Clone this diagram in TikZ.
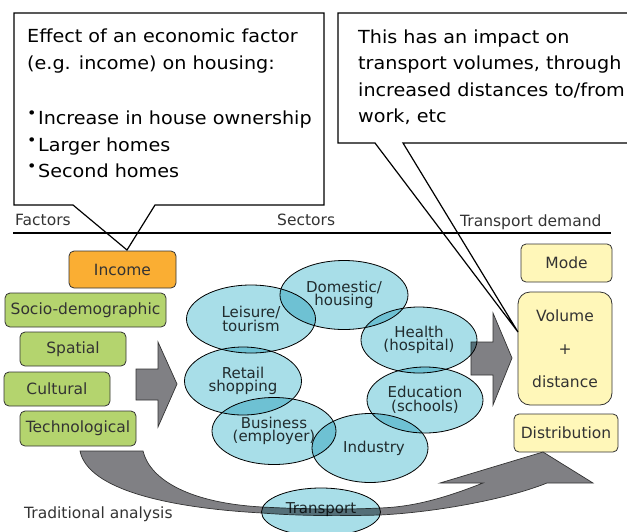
\documentclass[tikz,border=0pt]{standalone}
\usepackage{fontspec}
\setmainfont{DejaVu Sans}
\newfontfamily\callfont[FakeStretch=1.065]{DejaVu Sans}
\usetikzlibrary{shapes.geometric}
\definecolor{incorange}{RGB}{250,174,51}
\definecolor{factgreen}{RGB}{180,212,110}
\definecolor{demyellow}{RGB}{255,247,185}
\definecolor{sectblue}{RGB}{168,222,232}
\definecolor{arrgray}{RGB}{128,128,132}
\definecolor{txtgray}{RGB}{51,51,51}
\newcommand{\bulletdot}{{\fontsize{15}{15}\selectfont\raisebox{6pt}{•}}\hspace{1.5pt}}
\begin{document}
\begin{tikzpicture}
[x=1pt,y=-1pt,inner sep=0pt,
box/.style={rectangle,rounded corners=5pt,draw=txtgray,line width=0.8pt,text=txtgray,font=\fontsize{15.5}{15.5}\selectfont},
factor/.style={box,fill=factgreen},
demand/.style={box,fill=demyellow},
sector/.style={ellipse,draw=black,line width=0.8pt,fill=sectblue,text=txtgray,align=center,font=\fontsize{15}{13.5}\selectfont},
bigarrow/.style={draw=black!80,line width=0.7pt,fill=arrgray},
callout/.style={draw=black,line width=1.2pt,fill=white},
calltext/.style={anchor=north west,align=left,font=\callfont\fontsize{18}{26.5}\selectfont},
header/.style={anchor=base west,text=txtgray,font=\fontsize{15.5}{15.5}\selectfont}]
\useasboundingbox (0,0) rectangle (627,531);
\node (income) at (122.5,269.5) [box,fill=incorange,minimum width=107,minimum height=37] {Income};
\node (socio) at (85.5,310) [factor,minimum width=161,minimum height=34] {Socio-demographic};
\node (spatial) at (73,349) [factor,minimum width=106,minimum height=34] {Spatial};
\node (cultural) at (57,389) [factor,minimum width=106,minimum height=34] {Cultural};
\node (techno) at (78,428.5) [factor,minimum width=116,minimum height=35] {Technological};
\node (mode) at (566.5,263) [demand,minimum width=91,minimum height=38] {Mode};
\node (volume) at (565,348.5) [demand,rounded corners=12pt,align=center,minimum width=94,minimum height=113,font=\fontsize{15.5}{33}\selectfont] {Volume\\+\\distance};
\node (distrib) at (566,433) [demand,minimum width=104,minimum height=38] {Distribution};
\coordinate (tipa) at (127,250);
\coordinate (tipb) at (518,332);
\draw[callout] (14,13) -- (324,13) -- (324,205) -- (155,205) -- (tipa) -- (73,205) -- (14,205) -- cycle;
\draw[callout] (338,13) -- (640,13) -- (640,143) -- (403,143) -- (tipb) -- (375,143) -- (338,143) -- cycle;
\node (effect) at (27,29) [calltext] {Effect of an economic factor\\(e.g. income) on housing:\\[29pt]
\bulletdot Increase in house ownership\\
\bulletdot Larger homes\\
\bulletdot Second homes};
\node (impact) at (358,29.5) [calltext] {This has an impact on\\transport volumes, through\\increased distances to/from\\work, etc};
\node (factors) at (15,225) [header] {Factors};
\node (sectors) at (277,225) [header] {Sectors};
\node (tdemand) at (460,226) [header] {Transport demand};
\draw[line width=1.2pt] (13,233) -- (611,233);
\node (trad) at (24,518) [header] {Traditional analysis};
\draw[bigarrow] (136,369) -- (158,369) -- (158,342) -- (177,384) -- (158,427) -- (158,400) -- (136,400) -- cycle;
\draw[bigarrow] (471,342) -- (493,342) -- (493,313) -- (512,358) -- (493,405) -- (493,375) -- (471,375) -- cycle;
\draw[bigarrow] (80,451) .. controls (88,490) and (170,508) .. (262,513)
  .. controls (300,516) and (340,516) .. (380,515)
  .. controls (440,512) and (510,498) .. (547,483) -- (593,483) -- (543,452) -- (440,483) -- (483,483)
  .. controls (440,500) and (410,507) .. (380,508)
  .. controls (340,510) and (300,509) .. (262,507)
  .. controls (190,503) and (150,480) .. (143,451) -- cycle;
\begin{scope}[blend mode=multiply]
\node (leisure) at (251,319) [sector,minimum width=129,minimum height=68] {Leisure/\\tourism};
\node (domestic) at (344,295) [sector,minimum width=128,minimum height=69] {Domestic/\\housing};
\node (health) at (419,340) [sector,minimum width=116,minimum height=66] {Health\\(hospital)};
\node (retail) at (243,381) [sector,minimum width=117,minimum height=68] {Retail\\shopping};
\node (education) at (425,400) [sector,minimum width=116,minimum height=66] {Education\\(schools)};
\node (business) at (274,431) [sector,minimum width=124,minimum height=67] {Business\\(employer)};
\node (industry) at (370,448) [sector,minimum width=116,minimum height=69] {\hspace{8pt}Industry};
\node (transport) at (321,512) [sector,minimum width=119,minimum height=48] {\raisebox{7pt}{Transport}};
\end{scope}
\end{tikzpicture}
\end{document}
